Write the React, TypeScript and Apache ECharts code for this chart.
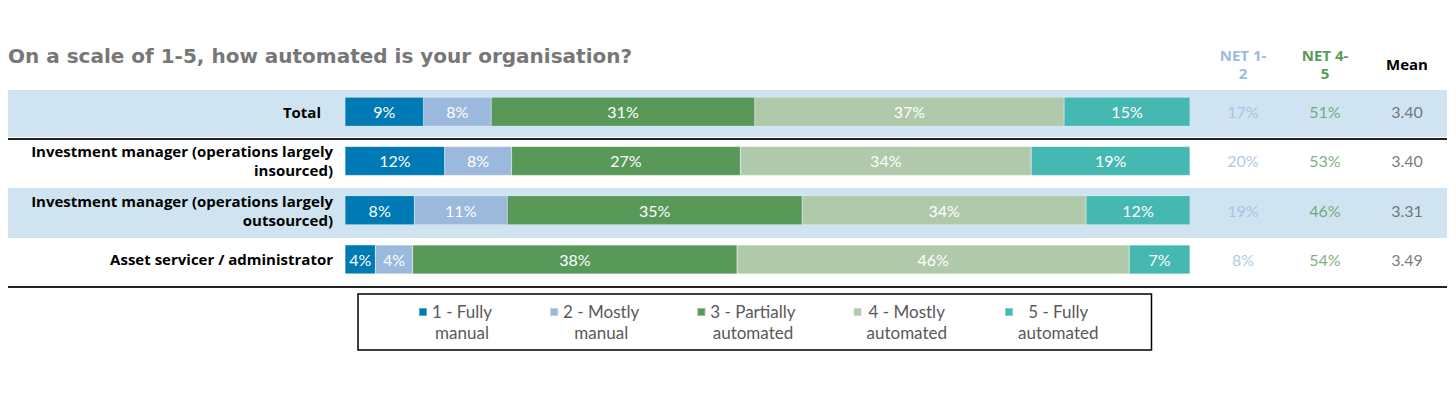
import React, { useEffect, useRef } from "react";
import * as echarts from "echarts";

const TITLE = "On a scale of 1-5, how automated is your organisation?";
const CATEGORIES = [
  "Total",
  "Investment manager (operations largely\ninsourced)",
  "Investment manager (operations largely\noutsourced)",
  "Asset servicer / administrator",
];
const SERIES_NAMES = [
  "1 - Fully\nmanual",
  "2 - Mostly\nmanual",
  "3 - Partially\nautomated",
  "4 - Mostly\nautomated",
  "5 - Fully\nautomated",
];
const FULLY_MANUAL = [9.3, 11.8, 8.2, 3.6];
const MOSTLY_MANUAL = [8.0, 7.9, 11.0, 4.4];
const PARTIALLY_AUTOMATED = [31.2, 27.1, 34.9, 38.4];
const MOSTLY_AUTOMATED = [36.6, 34.4, 33.6, 46.4];
const FULLY_AUTOMATED = [14.9, 18.8, 12.3, 7.2];
const SERIES_VALUES = [FULLY_MANUAL, MOSTLY_MANUAL, PARTIALLY_AUTOMATED, MOSTLY_AUTOMATED, FULLY_AUTOMATED];

const TABLE_COLUMNS = ["NET 1-\n2", "NET 4-\n5", "Mean"];
const NET_1_2 = [17, 20, 19, 8];
const NET_4_5 = [51, 53, 46, 54];
const MEAN = [3.4, 3.4, 3.31, 3.49];

const BAR_COLORS = ["#007ab5", "#9bb9dc", "#589959", "#afc9aa", "#45b8b1"];
const COLUMN_COLORS = ["#9bbbe0", "#5a9a5b", "#000000"];
const VALUE_COLORS = ["#9bbbe0", "#5a9a5b", "#595959"];
const BAND = "#cfe4f0";
const FONT = "Lato, 'Open Sans', sans-serif";
const LABEL_FONT = "'Open Sans', Lato, sans-serif";

export default function App() {
  const ref = useRef<HTMLDivElement>(null);

  useEffect(() => {
    if (!ref.current) return;
    const chart = echarts.init(ref.current, undefined, { renderer: "svg" });

    const barSeries = SERIES_NAMES.map((name, k) => ({
      type: "bar",
      name,
      stack: "total",
      xAxisIndex: 0,
      yAxisIndex: 0,
      barWidth: 29,
      data: SERIES_VALUES[k],
      itemStyle: { color: BAR_COLORS[k], borderColor: "rgba(255,255,255,0.35)", borderWidth: 0.5 },
      label: {
        show: true,
        position: "inside",
        color: "#ffffff",
        fontFamily: FONT,
        fontSize: 16,
        formatter: (p: any) => Math.round(p.value) + "%",
      },
    }));

    const tableData = [
      NET_1_2.map((v) => v + "%"),
      NET_4_5.map((v) => v + "%"),
      MEAN.map((v) => v.toFixed(2)),
    ];
    const tableSeries = tableData.map((col, c) => ({
      type: "scatter",
      name: "table" + c,
      xAxisIndex: 1,
      yAxisIndex: 1,
      symbolSize: 0,
      silent: true,
      data: col.map((txt, r) => ({ value: [c, r], label: { formatter: txt } })),
      label: {
        show: true,
        position: "inside",
        color: VALUE_COLORS[c],
        fontFamily: FONT,
        fontSize: 16,
      },
    }));

    const headerX = [1243, 1325, 1407];
    const headerTexts: any[] = [];
    TABLE_COLUMNS.forEach((h, c) => {
      const lines = h.split("\n");
      const startY = 64 - ((lines.length - 1) * 18) / 2;
      lines.forEach((line, li) => {
        headerTexts.push({
          type: "text",
          x: headerX[c],
          y: startY + li * 18,
          style: {
            text: line,
            fill: COLUMN_COLORS[c],
            font: "bold 15px " + LABEL_FONT,
            align: "center",
            verticalAlign: "middle",
          },
        });
      });
    });

    chart.setOption({
      animation: false,
      backgroundColor: "#ffffff",
      grid: [
        { left: 345, width: 845, top: 87, height: 197 },
        { left: 1202, width: 246, top: 87, height: 197 },
      ],
      xAxis: [
        { type: "value", gridIndex: 0, min: 0, max: 100, show: false },
        { type: "category", gridIndex: 1, data: TABLE_COLUMNS, show: false },
      ],
      yAxis: [
        {
          type: "category",
          gridIndex: 0,
          inverse: true,
          data: CATEGORIES,
          axisLine: { show: false },
          axisTick: { show: false },
          splitLine: { show: false },
          axisLabel: {
            margin: 12,
            color: "#000000",
            fontWeight: "bold",
            fontSize: 15,
            lineHeight: 19,
            fontFamily: LABEL_FONT,
            align: "right",
            formatter: (v: string) => (v === "Total" ? "{t|" + v + "}" : v),
            rich: {
              t: {
                padding: [0, 12, 0, 0],
                color: "#000000",
                fontWeight: "bold",
                fontSize: 15,
                fontFamily: LABEL_FONT,
              },
            },
          },
        },
        { type: "category", gridIndex: 1, inverse: true, data: CATEGORIES, show: false },
      ],
      legend: {
        data: SERIES_NAMES,
        left: 358,
        top: 294,
        orient: "horizontal",
        padding: [7, 53, 7, 60],
        borderColor: "#000000",
        borderWidth: 1.5,
        itemGap: 57,
        itemWidth: 8,
        itemHeight: 28,
        icon: "path://M0,0L8,0L8,8L0,8Z M0,28L0.05,28L0.05,28.05Z",
        formatter: (name: string) => name.split("\n").map((l) => "{c|" + l + "}").join("\n"),
        textStyle: {
          color: "#595959",
          fontSize: 17,
          fontFamily: FONT,
          lineHeight: 21,
          rich: {
            c: { align: "center", color: "#595959", fontSize: 17, fontFamily: FONT, lineHeight: 21 },
          },
        },
        selectedMode: false,
      },
      graphic: [
        { type: "rect", z: -10, shape: { x: 8, y: 90, width: 1439, height: 47 }, style: { fill: BAND } },
        { type: "rect", z: -10, shape: { x: 8, y: 188, width: 1439, height: 50 }, style: { fill: BAND } },
        { type: "line", shape: { x1: 8, y1: 139, x2: 1447, y2: 139 }, style: { stroke: "#222222", lineWidth: 2 } },
        { type: "line", shape: { x1: 8, y1: 287, x2: 1447, y2: 287 }, style: { stroke: "#222222", lineWidth: 2 } },
        {
          type: "text",
          x: 8,
          y: 56,
          style: {
            text: TITLE,
            fill: "#777777",
            font: "bold 20px 'DejaVu Sans', Verdana, sans-serif",
            verticalAlign: "middle",
            align: "left",
          },
        },
        ...headerTexts,
      ],
      series: [...barSeries, ...tableSeries],
    });

    return () => chart.dispose();
  }, []);

  return (
    <div
      ref={ref}
      style={{ position: "fixed", left: 0, top: 0, width: 1456, height: 398 }}
    />
  );
}
